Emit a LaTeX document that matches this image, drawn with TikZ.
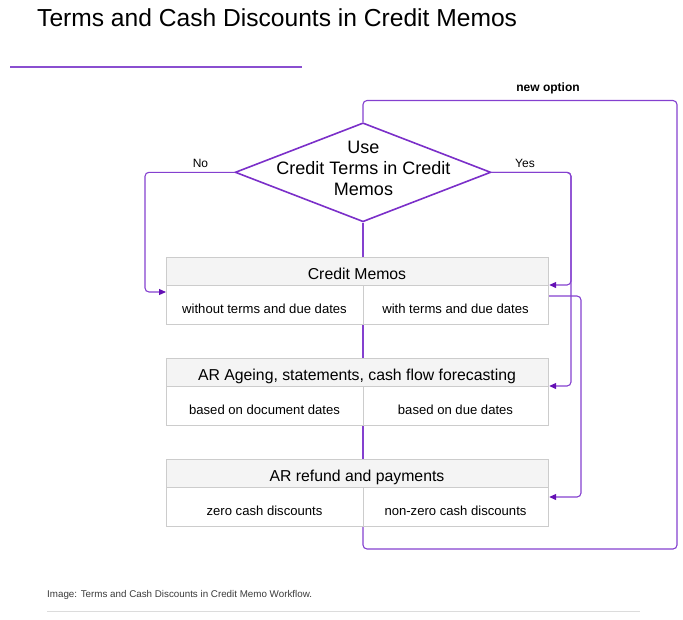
\documentclass[tikz,border=0pt]{standalone}
\usepackage{fontspec}
\setmainfont{Liberation Sans}
\usetikzlibrary{arrows.meta,shapes.geometric}
\definecolor{lnp}{HTML}{8440CF}
\definecolor{arp}{HTML}{6410B4}
\definecolor{dip}{HTML}{7B2FC9}
\definecolor{bxg}{HTML}{CCCCCC}
\definecolor{hdf}{HTML}{F4F4F4}
\definecolor{ulp}{HTML}{8A4FD0}
\definecolor{capg}{HTML}{3A3A3A}
\definecolor{rulg}{HTML}{DCDCDC}
\begin{document}
\begin{tikzpicture}[x=1pt,y=-1pt,
  conn/.style={draw=lnp, line width=1.1pt, rounded corners=4pt},
  arr/.style={-{Triangle[length=7pt,width=6pt,color=arp]}},
  hdrbox/.style={draw=bxg, fill=hdf, line width=1.2pt, minimum width=382pt, minimum height=28pt, inner sep=0pt, anchor=north west},
  lcell/.style={draw=bxg, fill=white, line width=1.2pt, minimum width=197pt, minimum height=39pt, inner sep=0pt, anchor=north west},
  rcell/.style={draw=bxg, fill=white, line width=1.2pt, minimum width=185pt, minimum height=39pt, inner sep=0pt, anchor=north west},
  hdrtxt/.style={anchor=base, inner sep=0pt, font=\fontsize{15.8}{18}\selectfont},
  celltxt/.style={anchor=base, inner sep=0pt, font=\fontsize{13.1}{15}\selectfont},
  lbl/.style={inner sep=0pt, font=\fontsize{12}{14}\selectfont}
]
\useasboundingbox (0,0) rectangle (683,619);
% title
\node[anchor=base west, inner sep=0pt, font=\fontsize{24.6}{28}\selectfont] (title) at (37,26) {Terms and Cash Discounts in Credit Memos};
\draw[ulp, line width=2pt] (10,67) coordinate (ula) -- (302,67) coordinate (ulb);

% decision
\node[shape=diamond, draw=dip, line width=1.6pt, fill=white, minimum width=255.7pt, minimum height=99pt, inner sep=0pt] (dia) at (363,172.3) {};
\node[inner sep=0pt, align=center, font=\fontsize{18}{21}\selectfont] (diatxt) at (363.5,168.5) {Use\\Credit Terms in Credit\\Memos};

% boxes
\node[hdrbox] (cmh) at (166,257) {};
\node[lcell] (cml) at (166,285) {};
\node[rcell] (cmr) at (363,285) {};
\node[hdrbox] (arh) at (166,358) {};
\node[lcell] (arl) at (166,386) {};
\node[rcell] (arr) at (363,386) {};
\node[hdrbox] (rfh) at (166,459) {};
\node[lcell] (rfl) at (166,487) {};
\node[rcell] (rfr) at (363,487) {};

\node[hdrtxt] (cmht) at (357,279.3) {Credit Memos};
\node[celltxt] (cmlt) at (264.5,313.3) {without terms and due dates};
\node[celltxt] (cmrt) at (455.5,313.3) {with terms and due dates};
\node[hdrtxt] (arht) at (357,380.3) {AR Ageing, statements, cash flow forecasting};
\node[celltxt] (arlt) at (264.5,414.3) {based on document dates};
\node[celltxt] (arrt) at (455.5,414.3) {based on due dates};
\node[hdrtxt] (rfht) at (357,481.3) {AR refund and payments};
\node[celltxt] (rflt) at (264.5,515.3) {zero cash discounts};
\node[celltxt] (rfrt) at (455.5,515.3) {non-zero cash discounts};

% labels
\node[lbl] (nolbl) at (200.5,163) {No};
\node[lbl] (yeslbl) at (525,163) {Yes};
\node[lbl, font=\bfseries\fontsize{12}{14}\selectfont] (newopt) at (548,88.5) {new option};

% helper coordinates
\coordinate (noc) at (145,292);
\coordinate (yc1) at (571,285);
\coordinate (yc2) at (571,386);
\coordinate (tc1) at (581,296);
\coordinate (tc2) at (581,497);
\coordinate (lp1) at (363,549);
\coordinate (lp2) at (677,549);
\coordinate (lp3) at (677,100.5);

% vertical connectors
\draw[conn] (dia.south) -- (dia.south |- cmh.north);
\draw[conn] (cmr.south west) -- (cmr.south west |- arh.north);
\draw[conn] (arr.south west) -- (arr.south west |- rfh.north);

% branches
\draw[conn,arr] (dia.west) -| (noc) -- (noc -| cml.west);
\draw[conn,arr] (dia.east) -| (yc1) -- (yc1 -| cmh.east);
\draw[conn,arr] (dia.east) -| (yc2) -- (yc2 -| arh.east);
\draw[conn,arr] (tc1 -| cmr.east) -- (tc1) -- (tc2) -- (tc2 -| rfr.east);

% new option loop
\draw[conn] (rfr.south west) -- (lp1) -- (lp2) -- (lp3) -- (lp3 -| dia.north) -- (dia.north);

% caption
\node[anchor=base west, inner sep=0pt, text=capg, font=\fontsize{9.8}{11}\selectfont] (cap) at (47,597) {Image: Terms and Cash Discounts in Credit Memo Workflow.};
\draw[rulg, line width=1pt] (47,611) coordinate (rla) -- (640,611) coordinate (rlb);
\end{tikzpicture}
\end{document}
